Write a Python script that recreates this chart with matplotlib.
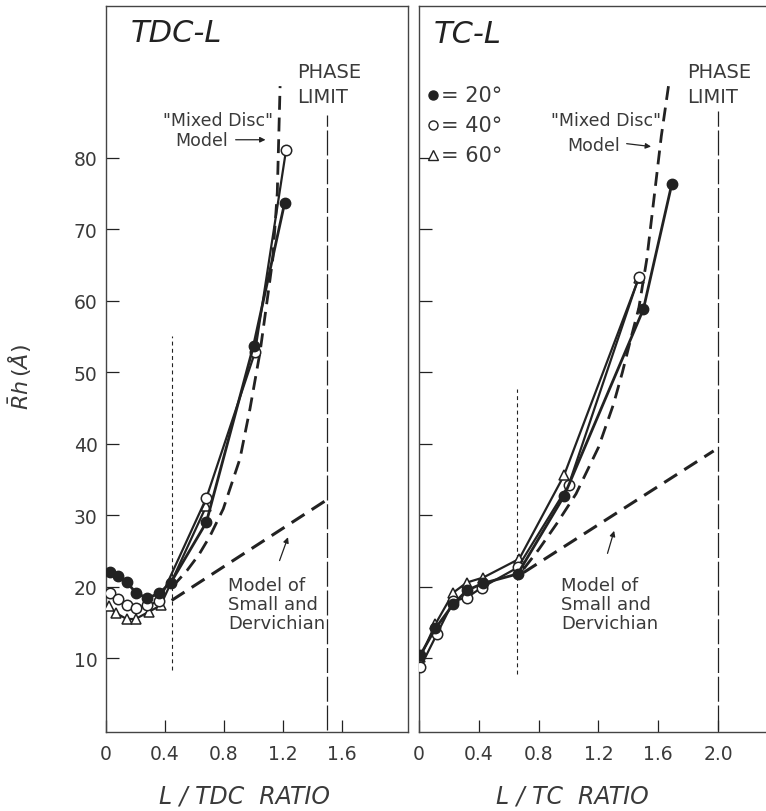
import matplotlib
matplotlib.use('Agg')
import matplotlib.pyplot as plt

INK = '#222222'
TXT = '#3a3a3a'

# TDC-L panel (left)
tdc_x20 = [0.03, 0.08, 0.14, 0.20, 0.28, 0.36, 0.44, 0.68, 1.00, 1.21]
tdc_y20 = [22.1, 21.5, 20.7, 19.2, 18.4, 19.1, 20.6, 29.0, 53.7, 73.6]
tdc_x40 = [0.03, 0.08, 0.14, 0.20, 0.28, 0.36, 0.68, 1.01, 1.22]
tdc_y40 = [19.2, 18.3, 17.4, 17.0, 17.4, 18.0, 32.4, 52.8, 81.0]
tdc_x60 = [0.02, 0.07, 0.14, 0.20, 0.29, 0.37, 0.68]
tdc_y60 = [17.3, 16.3, 15.5, 15.5, 16.5, 17.4, 31.3]
tdc_mixed_x = [0.45, 0.55, 0.63, 0.705, 0.795, 0.908, 0.976, 1.044, 1.10, 1.13, 1.161, 1.18]
tdc_mixed_y = [20.0, 22.3, 24.5, 27.1, 30.9, 37.9, 44.9, 52.8, 61.2, 65.8, 75.1, 90.0]
tdc_small_x = [0.445, 1.485]
tdc_small_y = [18.1, 32.0]
tdc_phase = 1.5
tdc_cmc = 0.45

# TC-L panel (right)
tc_x20 = [0.01, 0.11, 0.23, 0.32, 0.43, 0.66, 0.97, 1.50, 1.69]
tc_y20 = [10.5, 14.2, 17.6, 19.5, 20.5, 21.8, 32.7, 58.8, 76.3]
tc_x40 = [0.01, 0.12, 0.23, 0.32, 0.42, 0.66, 1.00, 1.47]
tc_y40 = [8.8, 13.4, 18.0, 18.5, 19.9, 22.7, 34.2, 63.3]
tc_x60 = [0.01, 0.11, 0.23, 0.32, 0.43, 0.67, 0.97, 1.47]
tc_y60 = [10.2, 14.8, 19.2, 20.6, 21.3, 23.9, 35.6, 63.2]
tc_mixed_x = [0.70, 0.80, 0.92, 1.05, 1.20, 1.30, 1.36, 1.42, 1.47, 1.523, 1.575, 1.62, 1.668]
tc_mixed_y = [22.5, 25.2, 28.8, 33.0, 39.5, 45.5, 50.0, 55.0, 59.0, 65.8, 75.0, 83.0, 90.0]
tc_small_x = [0.70, 1.97]
tc_small_y = [22.0, 39.0]
tc_phase = 2.0
tc_cmc = 0.655

yticks = [10, 20, 30, 40, 50, 60, 70, 80]

fig = plt.figure(figsize=(7.66, 8.12), dpi=100)
axL = fig.add_axes([106 / 766, 79 / 812, 302 / 766, 726 / 812])
axR = fig.add_axes([419 / 766, 79 / 812, 347 / 766, 726 / 812])


def draw_series(ax, x20, y20, x40, y40, x60, y60):
    ax.plot(x60, y60, '-', color=INK, lw=1.6, marker='^', ms=7,
            mfc='white', mec=INK, mew=1.1, zorder=3)
    ax.plot(x40, y40, '-', color=INK, lw=1.6, marker='o', ms=7.5,
            mfc='white', mec=INK, mew=1.1, zorder=4)
    ax.plot(x20, y20, '-', color=INK, lw=2.0, marker='o', ms=7.5,
            mfc=INK, mec=INK, zorder=5)


def style_axes(ax, xmax, xticks, xlabels):
    ax.set_xlim(0, xmax)
    ax.set_ylim(-0.3, 101.2)
    ax.set_xticks(xticks)
    ax.set_xticklabels(xlabels)
    ax.set_yticks(yticks)
    ax.tick_params(direction='in', length=9, width=0.9, color=INK,
                   labelsize=13.5, labelcolor=TXT, pad=9)
    for s in ax.spines.values():
        s.set_linewidth(1.0)
        s.set_color('#444444')


# ---- left panel ----
draw_series(axL, tdc_x20, tdc_y20, tdc_x40, tdc_y40, tdc_x60, tdc_y60)
axL.plot(tdc_mixed_x, tdc_mixed_y, color=INK, lw=2.0, dashes=(5, 2.8))
axL.plot(tdc_small_x, tdc_small_y, color=INK, lw=2.2, dashes=(5, 2.8))
axL.plot([tdc_phase, tdc_phase], [0, 86], color=INK, lw=0.9, dashes=(20, 3))
axL.plot([tdc_cmc, tdc_cmc], [8.3, 55], color=INK, lw=0.8, dashes=(3.5, 3))
style_axes(axL, 2.047, [0, 0.4, 0.8, 1.2, 1.6], ['0', '0.4', '0.8', '1.2', '1.6'])
axL.tick_params(axis='y', pad=6)

axL.text(0.17, 97.5, 'TDC-L', fontsize=22, style='italic', color=INK, va='center')
axL.text(1.295, 92.1, 'PHASE', fontsize=14, color=TXT, va='center')
axL.text(1.295, 88.6, 'LIMIT', fontsize=14, color=TXT, va='center')
axL.text(0.76, 85.3, '"Mixed Disc"', fontsize=12.5, color=TXT, ha='center', va='center')
axL.text(0.83, 82.4, 'Model', fontsize=12.5, color=TXT, ha='right', va='center')
axL.annotate('', xy=(1.10, 82.5), xytext=(0.86, 82.5),
             arrowprops=dict(arrowstyle='-|>', color=INK, lw=0.9, mutation_scale=8))
axL.text(0.83, 17.6, 'Model of\nSmall and\nDervichian', fontsize=13, color=TXT,
         va='center', ha='left', linespacing=1.05)
axL.annotate('', xy=(1.24, 27.3), xytext=(1.17, 23.3),
             arrowprops=dict(arrowstyle='-|>', color=INK, lw=0.9, mutation_scale=8))
axL.set_ylabel(r'$\bar{R}h\,(\AA)$', fontsize=16, color=TXT)
axL.yaxis.set_label_coords(-0.24, 0.49)
axL.text(0.457, -0.088, 'L / TDC  RATIO', transform=axL.transAxes, fontsize=17,
         style='italic', color=TXT, ha='center', va='center')

# ---- right panel ----
draw_series(axR, tc_x20, tc_y20, tc_x40, tc_y40, tc_x60, tc_y60)
axR.plot(tc_mixed_x, tc_mixed_y, color=INK, lw=2.0, dashes=(5, 2.8))
axR.plot(tc_small_x, tc_small_y, color=INK, lw=2.2, dashes=(5, 2.8))
axR.plot([tc_phase, tc_phase], [0, 86.5], color=INK, lw=0.9, dashes=(20, 3))
axR.plot([tc_cmc, tc_cmc], [7.8, 47.6], color=INK, lw=0.8, dashes=(3.5, 3))
style_axes(axR, 2.32, [0, 0.4, 0.8, 1.2, 1.6, 2.0], ['0', '0.4', '0.8', '1.2', '1.6', '2.0'])
axR.set_yticklabels([])
axR.spines['right'].set_visible(False)

axR.text(0.10, 97.3, 'TC-L', fontsize=22, style='italic', color=INK, va='center')
axR.text(1.793, 92.1, 'PHASE', fontsize=14, color=TXT, va='center')
axR.text(1.793, 88.6, 'LIMIT', fontsize=14, color=TXT, va='center')
axR.text(1.25, 85.3, '"Mixed Disc"', fontsize=12.5, color=TXT, ha='center', va='center')
axR.text(1.345, 81.8, 'Model', fontsize=12.5, color=TXT, ha='right', va='center')
axR.annotate('', xy=(1.57, 81.5), xytext=(1.37, 82.0),
             arrowprops=dict(arrowstyle='-|>', color=INK, lw=0.9, mutation_scale=8))
axR.text(0.95, 17.6, 'Model of\nSmall and\nDervichian', fontsize=13, color=TXT,
         va='center', ha='left', linespacing=1.05)
axR.annotate('', xy=(1.31, 28.2), xytext=(1.255, 24.3),
             arrowprops=dict(arrowstyle='-|>', color=INK, lw=0.9, mutation_scale=8))
axR.text(0.441, -0.088, 'L / TC  RATIO', transform=axR.transAxes, fontsize=17,
         style='italic', color=TXT, ha='center', va='center')

# legend drawn as marks + labels
leg_y = [88.7, 84.6, 80.4]
leg_txt = ['= 20°', '= 40°', '= 60°']
leg_mark = [('o', INK), ('o', 'white'), ('^', 'white')]
for yy, t, (m, fc) in zip(leg_y, leg_txt, leg_mark):
    axR.plot([0.094], [yy], marker=m, ms=6.5, mfc=fc, mec=INK, mew=1.0, ls='none')
    axR.text(0.15, yy, t, fontsize=15, color=TXT, va='center')

fig.savefig('out.png', dpi=100)
